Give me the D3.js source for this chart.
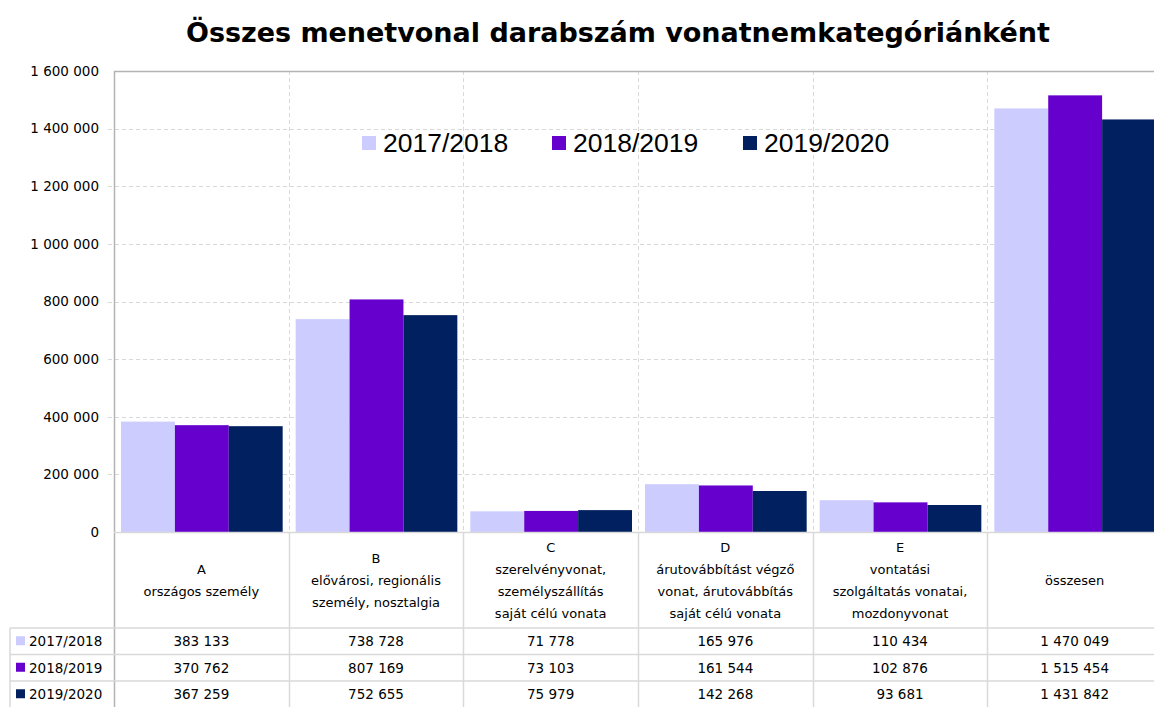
<!DOCTYPE html>
<html>
<head>
<meta charset="utf-8">
<script src="https://cdn.jsdelivr.net/npm/d3@7"></script>
<style>
  body { margin: 0; background: #fff; }
  text { fill: #000; }
</style>
</head>
<body>
<div id="chart"></div>
<script>
var categories = ["A", "B", "C", "D", "E", "összesen"];
var categoryLabels = [
  ["A", "országos személy"],
  ["B", "elővárosi, regionális", "személy, nosztalgia"],
  ["C", "szerelvényvonat,", "személyszállítás", "saját célú vonata"],
  ["D", "árutovábbítást végző", "vonat, árutovábbítás", "saját célú vonata"],
  ["E", "vontatási", "szolgáltatás vonatai,", "mozdonyvonat"],
  ["összesen"]
];
var seriesNames = ["2017/2018", "2018/2019", "2019/2020"];
var values1718 = [383133, 738728, 71778, 165976, 110434, 1470049];
var values1819 = [370762, 807169, 73103, 161544, 102876, 1515454];
var values1920 = [367259, 752655, 75979, 142268, 93681, 1431842];
var yTicks = [0, 200000, 400000, 600000, 800000, 1000000, 1200000, 1400000, 1600000];
var colors = ["#ccccff", "#6600cc", "#002060"];

var series = [values1718, values1819, values1920].map(function(v, i) {
  return { name: seriesNames[i], values: v, color: colors[i] };
});

var W = 1154, H = 707,
    plotLeft = 114, plotRight = 1162, plotTop = 71, plotBottom = 532,
    headerBottom = 628, rowH = 26.5, tableLeft = 10;

var svg = d3.select("#chart").append("svg")
    .attr("width", W).attr("height", H);

var loc = d3.formatLocale({decimal: ",", thousands: " ", grouping: [3], currency: ["", ""]});
var fmt = loc.format(",");

var x = d3.scaleBand().domain(categories).range([plotLeft, plotRight]);
var x1 = d3.scaleBand().domain(seriesNames).range([7, x.bandwidth() - 6]);
var y = d3.scaleLinear().domain([0, 1600000]).range([plotBottom, plotTop]);

// title
svg.append("text")
  .attr("x", 186).attr("y", 42)
  .attr("textLength", 864).attr("lengthAdjust", "spacing")
  .style("font-family", "DejaVu Sans").style("font-weight", "bold").style("font-size", "27px")
  .text("Összes menetvonal darabszám vonatnemkategóriánként");

// grid
var grid = svg.append("g");
grid.selectAll(".hg").data(yTicks.slice(1, -1)).enter().append("line")
  .attr("x1", plotLeft - 6).attr("x2", plotRight)
  .attr("y1", function(d) { return Math.round(y(d)) + 0.5; })
  .attr("y2", function(d) { return Math.round(y(d)) + 0.5; })
  .attr("stroke", "#d9d9d9").attr("stroke-dasharray", "4,3");
grid.selectAll(".vg").data(categories.slice(1)).enter().append("line")
  .attr("x1", function(d) { return Math.round(x(d)) + 0.5; })
  .attr("x2", function(d) { return Math.round(x(d)) + 0.5; })
  .attr("y1", plotTop).attr("y2", plotBottom)
  .attr("stroke", "#d9d9d9").attr("stroke-dasharray", "4,3");

// bars
var groups = svg.selectAll(".cat").data(categories).enter().append("g")
  .attr("transform", function(d) { return "translate(" + x(d) + ",0)"; });
groups.selectAll("rect").data(function(d, i) {
    return series.map(function(s) { return { name: s.name, value: s.values[i], color: s.color }; });
  }).enter().append("rect")
  .attr("x", function(d) { return x1(d.name); })
  .attr("width", x1.bandwidth())
  .attr("y", function(d) { return y(d.value); })
  .attr("height", function(d) { return y(0) - y(d.value); })
  .attr("fill", function(d) { return d.color; });

// frame
svg.append("line").attr("x1", plotLeft).attr("x2", plotRight).attr("y1", plotTop + 0.5).attr("y2", plotTop + 0.5)
  .attr("stroke", "#b3b3b3").attr("stroke-width", 1.5);
svg.append("line").attr("x1", plotLeft + 0.5).attr("x2", plotLeft + 0.5).attr("y1", plotTop).attr("y2", H)
  .attr("stroke", "#b3b3b3").attr("stroke-width", 1.5);

// y axis
var yAxis = svg.append("g")
  .attr("transform", "translate(" + plotLeft + ",0)")
  .call(d3.axisLeft(y).tickValues(yTicks).tickFormat(fmt).tickSize(0).tickPadding(15));
yAxis.select(".domain").remove();
yAxis.selectAll("text")
  .style("font-family", "DejaVu Sans").style("font-size", "13.5px").attr("fill", "#000");

// legend
var legX = [362, 552, 743];
var leg = svg.selectAll(".leg").data(series).enter().append("g")
  .attr("transform", function(d, i) { return "translate(" + legX[i] + ",136)"; });
leg.append("rect").attr("width", 14).attr("height", 14).attr("fill", function(d) { return d.color; });
leg.append("text").attr("x", 21).attr("y", 16)
  .style("font-family", "Liberation Sans").style("font-size", "26.5px")
  .text(function(d) { return d.name; });

// table lines
var tl = svg.append("g").attr("stroke", "#d9d9d9").attr("stroke-width", 1.5);
tl.append("line").attr("x1", plotLeft).attr("x2", plotRight).attr("y1", plotBottom + 0.5).attr("y2", plotBottom + 0.5);
[0, 1, 2].forEach(function(i) {
  var yy = headerBottom + i * rowH;
  tl.append("line").attr("x1", tableLeft).attr("x2", plotRight).attr("y1", yy).attr("y2", yy);
});
tl.append("line").attr("x1", tableLeft).attr("x2", tableLeft).attr("y1", headerBottom).attr("y2", H);
tl.selectAll(".vc").data(categories.slice(1)).enter().append("line")
  .attr("x1", function(d) { return Math.round(x(d)) + 0.5; })
  .attr("x2", function(d) { return Math.round(x(d)) + 0.5; })
  .attr("y1", plotBottom).attr("y2", H);

// category labels
var cl = svg.selectAll(".cl").data(categoryLabels).enter().append("text")
  .attr("text-anchor", "middle")
  .style("font-family", "DejaVu Sans").style("font-size", "13px");
cl.each(function(lines, i) {
  var cx = x(categories[i]) + x.bandwidth() / 2;
  var y0 = (plotBottom + headerBottom) / 2 - (lines.length - 1) * 22 / 2 + 5;
  d3.select(this).selectAll("tspan").data(lines).enter().append("tspan")
    .attr("x", cx).attr("y", function(d, j) { return y0 + j * 22; })
    .text(function(d) { return d; });
});

// table rows
series.forEach(function(s, r) {
  var cy = headerBottom + r * rowH + rowH / 2 + 5;
  svg.append("rect").attr("x", 16).attr("y", cy - 10).attr("width", 9).attr("height", 9).attr("fill", s.color);
  svg.append("text").attr("x", 29).attr("y", cy)
    .style("font-family", "DejaVu Sans").style("font-size", "13.5px").text(s.name);
  svg.selectAll(null).data(s.values).enter().append("text")
    .attr("x", function(d, i) { return x(categories[i]) + x.bandwidth() / 2; })
    .attr("y", cy).attr("text-anchor", "middle")
    .style("font-family", "DejaVu Sans").style("font-size", "13.5px")
    .text(function(d) { return fmt(d); });
});
</script>
</body>
</html>
